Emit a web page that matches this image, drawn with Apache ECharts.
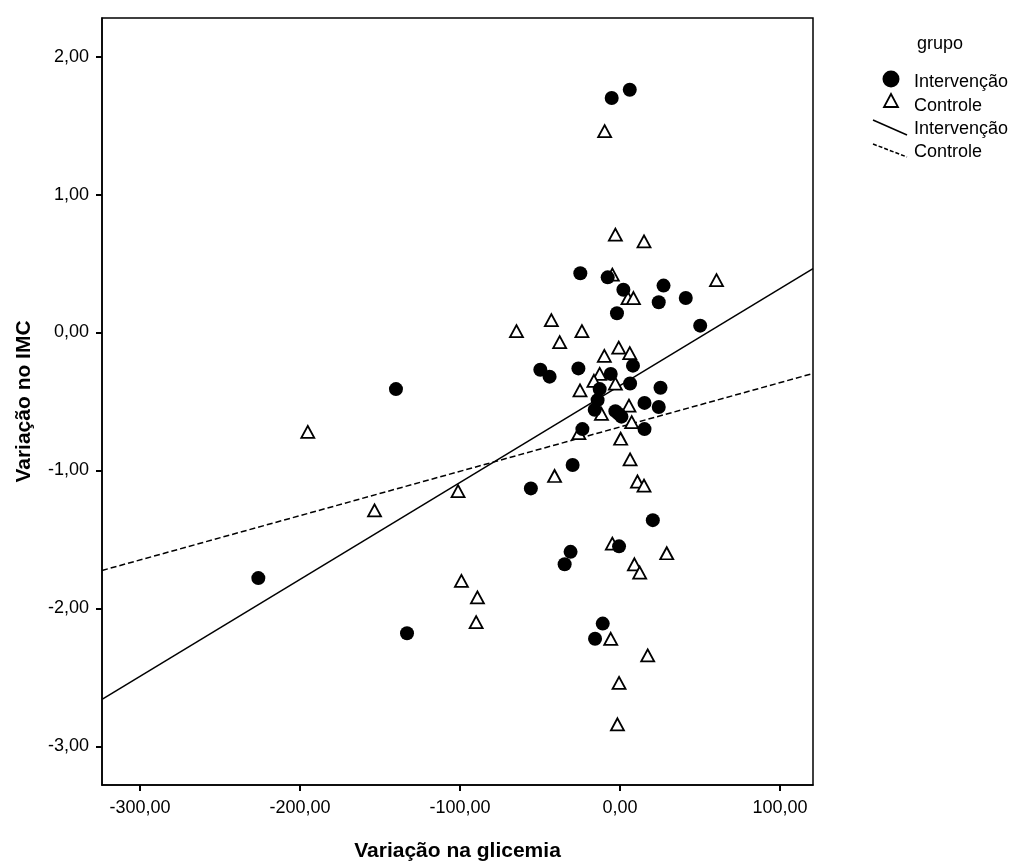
<!DOCTYPE html>
<html lang="pt">
<head>
  <meta charset="UTF-8">
  <title>Variação no IMC x Variação na glicemia</title>
  <script src="https://cdn.jsdelivr.net/npm/echarts@6/dist/echarts.min.js"></script>
  <style>
    html, body { margin: 0; padding: 0; background: #fff; }
    #main { width: 1019px; height: 867px; }
  </style>
</head>
<body>
<div id="main"></div>
<script>
// grupo Intervenção (círculos cheios)
var intervencaoX = [6.1, -5.2, -24.8, -7.7, 2.1, 27.2, 41.1, 24.2, -1.9, 50.1,
  -49.8, -44.0, -26.0, -5.8, 8.1, 6.3, 25.3, -12.7, -14.0, -15.8,
  -2.9, -0.8, 0.9, 15.3, 24.2, -23.5, 15.3, -29.6, -55.7, 20.5,
  -0.6, -30.9, -34.6, -10.8, -15.6, -140.0, -226.0, -133.1]
var intervencaoY = [1.76, 1.70, 0.43, 0.40, 0.31, 0.34, 0.25, 0.22, 0.14, 0.05,
  -0.27, -0.32, -0.26, -0.30, -0.24, -0.37, -0.40, -0.41, -0.49, -0.56,
  -0.57, -0.59, -0.61, -0.51, -0.54, -0.70, -0.70, -0.96, -1.13, -1.36,
  -1.55, -1.59, -1.68, -2.11, -2.22, -0.41, -1.78, -2.18]

// grupo Controle (triângulos)
var controleX = [-9.6, -2.9, 15.0, -4.8, 60.3, 5.0, 8.4, -64.7, -42.9, -23.8,
  -37.7, -0.8, 6.1, -9.8, -12.7, -16.3, -2.9, -25.0, 5.6, -11.6,
  7.3, -25.7, 0.4, 6.3, -40.9, 10.9, 15.0, -4.8, 29.2, 9.0,
  12.3, -5.8, 17.3, -0.6, -1.6, -195.1, -153.4, -101.2, -99.1, -89.1, -89.9]
var controleY = [1.46, 0.71, 0.66, 0.42, 0.38, 0.25, 0.25, 0.01, 0.09, 0.01,
  -0.07, -0.11, -0.15, -0.17, -0.30, -0.35, -0.37, -0.42, -0.53, -0.59,
  -0.65, -0.73, -0.77, -0.92, -1.04, -1.08, -1.11, -1.53, -1.60, -1.68,
  -1.74, -2.22, -2.34, -2.54, -2.84, -0.72, -1.29, -1.15, -1.80, -1.92, -2.10]

// retas de ajuste (extremos)
var retaIntervencao = [[-323.7, -2.66], [120.6, 0.464]]
var retaControle = [[-323.7, -1.725], [120.6, -0.297]]

// eixos
var xMin = -323.7, xMax = 120.6
var yMin = -3.28, yMax = 2.28
var xTicks = [-300, -200, -100, 0, 100]
var yTicks = [-3, -2, -1, 0, 1, 2]

function zip(xs, ys) {
  return xs.map(function (x, i) { return [x, ys[i]] })
}
function fmt(v) {
  return v.toFixed(2).replace('.', ',')
}

var FONT = '"Liberation Sans", Arial, sans-serif'
var chart = echarts.init(document.getElementById('main'))

var option = {
  backgroundColor: '#fff',
  animation: false,
  grid: {
    left: 102, right: 206, top: 18, bottom: 82,
    outerBoundsMode: 'none', containLabel: false,
    show: true, borderColor: '#000', borderWidth: 1.5, backgroundColor: 'transparent'
  },
  xAxis: {
    type: 'value', min: xMin, max: xMax,
    name: 'Variação na glicemia', nameLocation: 'middle', nameGap: 56,
    nameTextStyle: { fontFamily: FONT, fontSize: 21, fontWeight: 'bold', color: '#000' },
    axisLine: { show: true, onZero: false, lineStyle: { color: '#000', width: 1.5 } },
    axisTick: { show: true, length: 6, customValues: xTicks, lineStyle: { color: '#000', width: 2 } },
    axisLabel: {
      customValues: xTicks, margin: 14, color: '#000', fontFamily: FONT, fontSize: 18,
      formatter: fmt
    },
    splitLine: { show: false }
  },
  yAxis: {
    type: 'value', min: yMin, max: yMax,
    name: 'Variação no IMC', nameLocation: 'middle', nameGap: 67, nameRotate: 90,
    nameTextStyle: { fontFamily: FONT, fontSize: 21, fontWeight: 'bold', color: '#000' },
    axisLine: { show: true, onZero: false, lineStyle: { color: '#000', width: 1.5 } },
    axisTick: { show: true, length: 6, customValues: yTicks, lineStyle: { color: '#000', width: 2 } },
    axisLabel: {
      customValues: yTicks, margin: 13, color: '#000', fontFamily: FONT, fontSize: 18,
      formatter: fmt
    },
    splitLine: { show: false }
  },
  series: [
    {
      name: 'Intervenção (ajuste)', type: 'line', data: retaIntervencao,
      symbol: 'none', z: 1, silent: true,
      lineStyle: { color: '#000', width: 1.5, type: 'solid' }
    },
    {
      name: 'Controle (ajuste)', type: 'line', data: retaControle,
      symbol: 'none', z: 1, silent: true,
      lineStyle: { color: '#000', width: 1.5, type: [6, 3] }
    },
    {
      name: 'Controle', type: 'scatter', data: zip(controleX, controleY),
      symbol: 'triangle', symbolSize: [13, 12], z: 3,
      itemStyle: { color: '#fff', borderColor: '#000', borderWidth: 1.8, opacity: 1 }
    },
    {
      name: 'Intervenção', type: 'scatter', data: zip(intervencaoX, intervencaoY),
      symbol: 'circle', symbolSize: 14, z: 4,
      itemStyle: { color: '#000', opacity: 1 }
    }
  ],
  graphic: [
    { type: 'text', left: 917, top: 35, style: { text: 'grupo', fontFamily: FONT, fontSize: 18, fill: '#000' } },
    { type: 'circle', shape: { cx: 891, cy: 79, r: 8.5 }, style: { fill: '#000' } },
    { type: 'polygon', shape: { points: [[891, 94], [898, 107], [884, 107]] },
      style: { fill: '#fff', stroke: '#000', lineWidth: 1.8 } },
    { type: 'line', shape: { x1: 873, y1: 120, x2: 907, y2: 135 }, style: { stroke: '#000', lineWidth: 1.5 } },
    { type: 'line', shape: { x1: 873, y1: 144, x2: 907, y2: 157 }, style: { stroke: '#000', lineWidth: 1.5, lineDash: [4, 2] } },
    { type: 'text', left: 914, top: 73, style: { text: 'Intervenção', fontFamily: FONT, fontSize: 18, fill: '#000' } },
    { type: 'text', left: 914, top: 97, style: { text: 'Controle', fontFamily: FONT, fontSize: 18, fill: '#000' } },
    { type: 'text', left: 914, top: 120, style: { text: 'Intervenção', fontFamily: FONT, fontSize: 18, fill: '#000' } },
    { type: 'text', left: 914, top: 143, style: { text: 'Controle', fontFamily: FONT, fontSize: 18, fill: '#000' } }
  ]
}
chart.setOption(option)
</script>
</body>
</html>
